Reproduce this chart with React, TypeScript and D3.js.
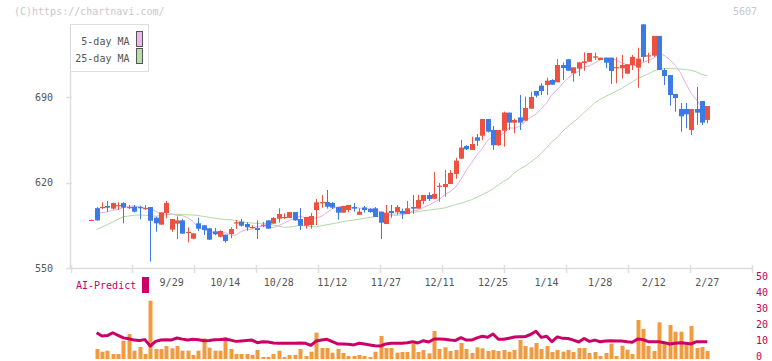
import React from 'react';
import * as d3 from 'd3';

// daily candles (oldest first)
const open = [
  589.2, 599.0, 599.4, 600.8, 598.6, 601.0, 603.2, 599.5, 600.2, 599.9,
  598.7, 599.9, 591.2, 585.5, 595.0, 581.4, 586.3, 589.0, 579.2, 574.0,
  586.6, 585.0, 582.5, 580.0, 575.6, 577.3, 577.8, 586.8, 587.9, 586.0,
  582.7, 582.7, 584.9, 589.0, 586.3, 590.4, 591.5, 591.0, 595.8, 590.1,
  584.6, 585.2, 597.5, 603.6, 604.0, 603.2, 599.9, 595.3, 597.5, 599.9,
  593.6, 599.6, 598.3, 598.9, 596.1, 586.0, 596.7, 595.6, 596.7, 594.2,
  599.9, 598.6, 604.9, 609.8, 606.7, 616.8, 616.3, 618.8, 627.0, 639.5,
  649.9, 646.6, 657.0, 658.3, 672.0, 663.0, 650.5, 662.4, 677.2, 669.0,
  673.3, 670.6, 680.4, 694.9, 699.3, 699.8, 703.9, 702.0, 716.2, 720.9,
  709.4, 713.2, 717.8, 718.9, 722.2, 720.3, 722.2, 722.2, 714.0, 713.5,
  709.1, 716.2, 714.0, 749.5, 723.7, 723.8, 740.0, 712.1, 708.0, 692.5,
  680.2, 680.2, 663.0, 680.2, 686.7, 671.2,
];
const high = [
  589.6, 599.9, 603.8, 604.9, 603.5, 603.8, 603.8, 601.6, 601.6, 601.0,
  601.6, 599.9, 592.0, 595.6, 604.9, 590.1, 592.3, 590.1, 583.3, 578.4,
  591.2, 585.0, 582.8, 582.8, 580.8, 577.3, 583.3, 589.3, 590.1, 587.4,
  585.0, 589.0, 587.7, 589.0, 591.8, 598.9, 594.8, 595.8, 595.8, 599.1,
  591.8, 595.0, 606.5, 609.8, 613.9, 604.0, 599.9, 600.8, 601.6, 603.2,
  598.9, 600.8, 598.9, 599.9, 596.1, 601.6, 601.6, 601.6, 598.6, 604.9,
  609.8, 609.8, 609.8, 612.0, 628.6, 619.6, 630.2, 630.2, 640.3, 655.0,
  650.5, 657.5, 659.7, 672.0, 672.0, 666.3, 663.0, 678.0, 677.2, 672.3,
  691.6, 690.3, 694.4, 694.9, 701.2, 705.8, 704.6, 721.1, 718.1, 720.9,
  714.3, 718.4, 726.6, 726.0, 726.3, 722.2, 722.2, 722.2, 722.5, 724.4,
  716.8, 724.4, 730.4, 749.5, 726.3, 740.0, 740.0, 713.5, 708.0, 692.5,
  685.1, 685.1, 680.2, 698.2, 686.7, 682.6,
];
const low = [
  589.0, 588.7, 598.3, 596.1, 597.8, 597.5, 586.6, 598.3, 595.6, 589.9,
  597.5, 555.2, 579.7, 585.2, 590.7, 579.7, 573.7, 578.1, 571.0, 573.5,
  580.3, 577.0, 572.9, 577.0, 575.0, 570.7, 574.3, 581.9, 583.8, 580.5,
  582.2, 573.7, 583.3, 582.2, 586.3, 587.1, 590.1, 591.0, 588.5, 581.1,
  582.2, 582.2, 585.2, 599.4, 598.6, 598.3, 589.6, 595.3, 595.6, 596.1,
  593.6, 595.3, 595.3, 591.8, 573.7, 586.0, 591.2, 593.6, 590.1, 594.2,
  594.5, 598.6, 602.2, 604.9, 606.7, 604.3, 608.4, 618.8, 623.1, 639.5,
  646.6, 646.6, 649.9, 654.8, 661.0, 646.6, 649.9, 649.3, 663.0, 660.3,
  663.0, 670.6, 680.4, 689.7, 691.6, 691.6, 700.1, 702.0, 703.9, 711.5,
  702.5, 707.2, 711.5, 718.9, 720.3, 720.3, 713.5, 700.6, 701.2, 705.3,
  709.1, 712.1, 697.6, 718.9, 717.6, 722.8, 712.1, 699.8, 682.9, 678.0,
  661.6, 664.4, 658.9, 667.1, 667.1, 668.5,
];
const close = [
  589.4, 589.0, 600.0, 599.4, 603.2, 601.5, 599.4, 599.9, 596.1, 598.9,
  599.1, 588.7, 586.6, 595.6, 603.2, 590.1, 589.0, 578.1, 579.6, 578.4,
  582.2, 581.1, 573.2, 577.6, 580.3, 572.1, 581.9, 587.4, 584.6, 583.3,
  583.6, 581.1, 585.5, 582.2, 591.0, 594.2, 591.8, 595.8, 589.0, 584.6,
  591.8, 592.6, 603.8, 604.0, 600.2, 599.4, 595.3, 600.8, 601.6, 598.6,
  596.1, 597.5, 595.8, 591.8, 587.1, 595.3, 595.0, 599.9, 594.5, 598.9,
  598.6, 605.7, 609.8, 606.5, 610.6, 617.4, 618.8, 627.8, 637.9, 648.6,
  647.2, 651.5, 654.2, 672.0, 661.6, 650.5, 663.0, 677.2, 669.0, 671.2,
  669.0, 681.0, 690.0, 691.1, 694.9, 703.4, 700.1, 716.2, 713.7, 711.5,
  714.3, 718.4, 719.2, 726.0, 723.3, 722.2, 718.1, 711.3, 714.5, 716.2,
  716.8, 722.8, 721.4, 722.8, 724.1, 740.0, 712.1, 707.2, 691.6, 689.2,
  674.2, 675.8, 680.2, 677.2, 669.0, 682.6,
];

// moving averages as drawn on the chart
const ma5 = [
  null, 594.8, 595.3, 596.0, 597.2, 598.0, 599.5, 600.6, 600.7, 600.2,
  599.2, 598.7, 596.5, 594.2, 593.8, 594.4, 593.0, 592.9, 591.2, 588.0,
  583.0, 581.4, 579.9, 578.9, 578.5, 578.9, 576.9, 577.0, 579.9, 581.3,
  581.9, 584.2, 584.0, 583.6, 583.1, 584.7, 586.8, 588.9, 591.0, 592.4,
  591.1, 590.6, 590.8, 592.4, 595.4, 598.5, 600.0, 600.5, 599.9, 599.5,
  599.1, 598.5, 598.9, 597.9, 596.0, 593.7, 593.5, 593.0, 593.8, 594.4,
  596.7, 597.4, 599.5, 601.5, 603.9, 606.2, 610.0, 612.6, 616.2, 622.5,
  630.1, 636.1, 642.6, 647.9, 654.7, 657.3, 658.0, 660.3, 664.9, 664.3,
  666.2, 669.9, 673.5, 676.0, 680.5, 685.2, 692.1, 695.9, 701.1, 705.7,
  709.0, 711.2, 714.8, 715.4, 717.9, 720.2, 721.8, 721.8, 720.2, 717.9,
  716.5, 715.4, 716.3, 718.3, 720.0, 721.6, 725.5, 724.0, 720.5, 716.0,
  710.0, 701.0, 693.0, 687.5, 681.5, 678.5,
];
const ma25 = [
  null, 581.7, 583.5, 585.5, 587.5, 590.0, 592.0, 592.6, 593.2, 593.4,
  593.2, 592.8, 592.4, 593.0, 593.6, 594.0, 594.0, 593.8, 593.5, 593.4,
  593.0, 592.2, 591.5, 590.8, 590.2, 589.8, 589.4, 589.0, 588.0, 587.1,
  586.8, 586.6, 586.6, 586.3, 585.2, 584.2, 583.3, 583.5, 584.2, 585.0,
  584.5, 584.0, 583.8, 584.6, 585.4, 586.2, 587.0, 588.0, 588.7, 589.3,
  590.0, 590.7, 591.4, 592.0, 592.6, 593.2, 594.0, 594.4, 594.8, 595.2,
  595.6, 596.2, 596.8, 597.4, 598.0, 598.6, 599.2, 600.5, 601.8, 603.0,
  604.5, 606.0, 608.0, 610.0, 612.3, 614.8, 618.0, 621.0, 623.5, 628.0,
  631.0, 633.5, 636.5, 640.0, 644.0, 648.5, 653.5, 657.0, 662.0, 666.0,
  669.5, 673.0, 677.5, 681.0, 685.5, 688.0, 690.5, 692.5, 694.8, 697.0,
  699.8, 702.5, 705.0, 707.0, 709.0, 711.3, 712.8, 713.3, 713.3, 713.1,
  712.9, 712.4, 711.8, 710.5, 708.3, 707.5,
];

// volume (10k shares)
const volume = [
  0, 10, 7.3, 8.3, 5, 5, 18.3, 25, 8.3, 12,
  5, 58.3, 10, 10, 13, 10.7, 13, 8.3, 8.3, 4,
  8.3, 20.7, 11.3, 8.3, 8.3, 22, 10, 5, 5, 5,
  4, 9, 2, 2, 5, 8.3, 2, 4, 4, 10,
  3, 7.3, 26.3, 11, 11, 6.3, 10, 6, 3, 3,
  4, 3, 2, 7.3, 23, 11, 11, 6.3, 7, 7,
  15.5, 7, 9, 5.7, 28, 10, 11.7, 8, 9, 16,
  10, 6, 11.7, 10.7, 8, 9, 8, 9, 7.3, 9,
  19, 13, 11.7, 16, 10, 13, 7, 9, 7.3, 9,
  7, 11, 11, 6, 7, 3, 6, 15.3, 3, 13.3,
  9.3, 5, 39, 30, 13, 8, 36.7, 15.7, 34, 27.3,
  27.3, 14.7, 33, 11, 12, 8,
];

// AI-Predict line (right axis, 0-50)
const aiPredict = [
  null, 15.6, 13.6, 13.8, 15.6, 14.0, 12.4, 11.8, 11.0, 10.8,
  11.3, 7.3, 10.2, 11.1, 11.2, 11.1, 12.3, 11.6, 11.0, 11.5,
  11.2, 10.6, 10.8, 11.2, 11.3, 11.5, 11.0, 10.2, 10.5, 10.8,
  11.0, 9.4, 10.0, 9.8, 9.2, 9.0, 9.0, 9.0, 9.0, 9.2,
  9.0, 7.7, 10.5, 11.0, 11.5, 10.0, 8.6, 8.6, 8.4, 8.0,
  9.0, 8.5, 8.0, 7.5, 7.3, 8.6, 9.0, 9.0, 9.0, 9.4,
  10.0, 9.2, 10.6, 9.8, 11.7, 11.7, 11.5, 11.0, 10.8, 12.5,
  11.0, 11.0, 12.4, 13.4, 12.8, 14.8, 11.5, 11.5, 12.2, 12.9,
  13.1, 13.1, 14.5, 16.5, 12.7, 13.4, 10.0, 13.0, 12.1, 12.0,
  11.0, 9.8, 12.0, 10.2, 11.0, 10.0, 10.5, 10.6, 10.4, 10.5,
  10.0, 9.6, 11.7, 11.3, 10.0, 10.0, 10.0, 9.4, 8.6, 9.0,
  9.4, 9.0, 8.6, 10.0, 10.0, 10.0,
];

const dateLabels = ['9/29', '10/14', '10/28', '11/12', '11/27', '12/11', '12/25', '1/14', '1/28', '2/12', '2/27'];
const dateLabelIndex = [15, 25, 35, 45, 55, 65, 75, 85, 95, 105, 115];
const priceTicks = [550, 620, 690];
const aiTicks = [0, 10, 20, 30, 40, 50];

const FONT = '"DejaVu Sans Mono", "Liberation Mono", monospace';
const UP = '#ef5140';
const DOWN = '#3c7ae6';
const AXIS = '#dedede';

export default function App() {
  const n = close.length;
  const x = d3.scaleLinear().domain([0, n - 1]).range([91.3, 707.3]);
  const y = d3.scaleLinear().domain([550, 690]).range([268, 97]);
  const yVol = d3.scaleLinear().domain([0, 60]).range([359, 299]);
  const yAi = d3.scaleLinear().domain([0, 50]).range([357.7, 277.7]);
  // plain ruler ticks under the price panel
  const ruler = d3.scaleLinear().domain([0, 11]).range([70.5, 752]);

  const maLine = d3
    .line<number | null>()
    .defined((d) => d != null)
    .x((_, i) => x(i))
    .y((d) => y(d as number));

  const aiLine = d3
    .line<number | null>()
    .defined((d) => d != null)
    .x((_, i) => x(i))
    .y((d) => yAi(d as number));

  const px = (i: number) => Math.round(x(i));

  return (
    <svg
      width={772}
      height={361}
      style={{ position: 'absolute', left: 0, top: 0, background: '#fff' }}
      fontFamily={FONT}
      fontSize={10}
    >
      <text x={14} y={15} fill="#c8c8c8">(C)https://chartnavi.com/</text>
      <text x={757} y={15} fill="#c8c8c8" textAnchor="end">5607</text>

      {/* price axis */}
      <line x1={70.5} x2={70.5} y1={24} y2={268.5} stroke={AXIS} strokeWidth={1.5} />
      <line x1={70} x2={752} y1={268.5} y2={268.5} stroke={AXIS} strokeWidth={1.5} />
      {priceTicks.map((t) => (
        <g key={t}>
          <line x1={66} x2={72} y1={Math.round(y(t)) + 0.5} y2={Math.round(y(t)) + 0.5} stroke={AXIS} strokeWidth={1.5} />
          <text x={53} y={y(t) + 3.5} fill="#555" textAnchor="end">{t}</text>
        </g>
      ))}
      {d3.range(12).map((k) => (
        <line key={k} x1={Math.round(ruler(k)) + 0.5} x2={Math.round(ruler(k)) + 0.5} y1={265} y2={273} stroke={AXIS} strokeWidth={1.5} />
      ))}
      {dateLabels.map((lab, k) => (
        <text key={lab} x={x(dateLabelIndex[k])} y={286} fill="#555" textAnchor="middle">{lab}</text>
      ))}

      {/* moving averages */}
      <path d={maLine(ma25) || ''} fill="none" stroke="#b0d9a2" strokeWidth={1} />
      <path d={maLine(ma5) || ''} fill="none" stroke="#e6aee8" strokeWidth={1} />

      {/* candles */}
      {close.map((c, i) => {
        const o = open[i];
        const up = c >= o;
        const col = up ? UP : DOWN;
        const top = y(Math.max(o, c));
        const bot = y(Math.min(o, c));
        const cx = px(i);
        return (
          <g key={i}>
            <line x1={cx + 0.5} x2={cx + 0.5} y1={y(high[i])} y2={y(low[i])} stroke={col} strokeWidth={1} />
            <rect x={cx - 2} y={top} width={5} height={Math.max(1.2, bot - top)} fill={col} />
          </g>
        );
      })}

      {/* legend */}
      <rect x={70.5} y={24.5} width={78} height={47} fill="#fff" stroke={AXIS} strokeWidth={1} />
      <text x={129.5} y={45} fill="#555" textAnchor="end">5-day MA</text>
      <text x={129.5} y={61.5} fill="#555" textAnchor="end">25-day MA</text>
      <rect x={136.5} y={31.5} width={6} height={15} fill="#ecb8ec" stroke="#555" strokeWidth={1} />
      <rect x={136.5} y={48.5} width={6} height={15} fill="#b8dcaa" stroke="#555" strokeWidth={1} />

      {/* lower panel */}
      <text x={76} y={289} fill="#cc0066">AI-Predict</text>
      <rect x={142} y={277} width={7} height={16} fill="#cc0066" />
      {aiTicks.map((t) => (
        <text key={t} x={756} y={yAi(t) + 2.5} fill="#c0005a">{t}</text>
      ))}
      {volume.map((v, i) =>
        v > 0 ? (
          <rect key={i} x={px(i) - 1.5} y={yVol(v)} width={4} height={yVol(0) - yVol(v)} fill="#f29a3e" />
        ) : null,
      )}
      <path d={aiLine(aiPredict) || ''} fill="none" stroke="#cc0066" strokeWidth={3} strokeLinejoin="round" />
    </svg>
  );
}
